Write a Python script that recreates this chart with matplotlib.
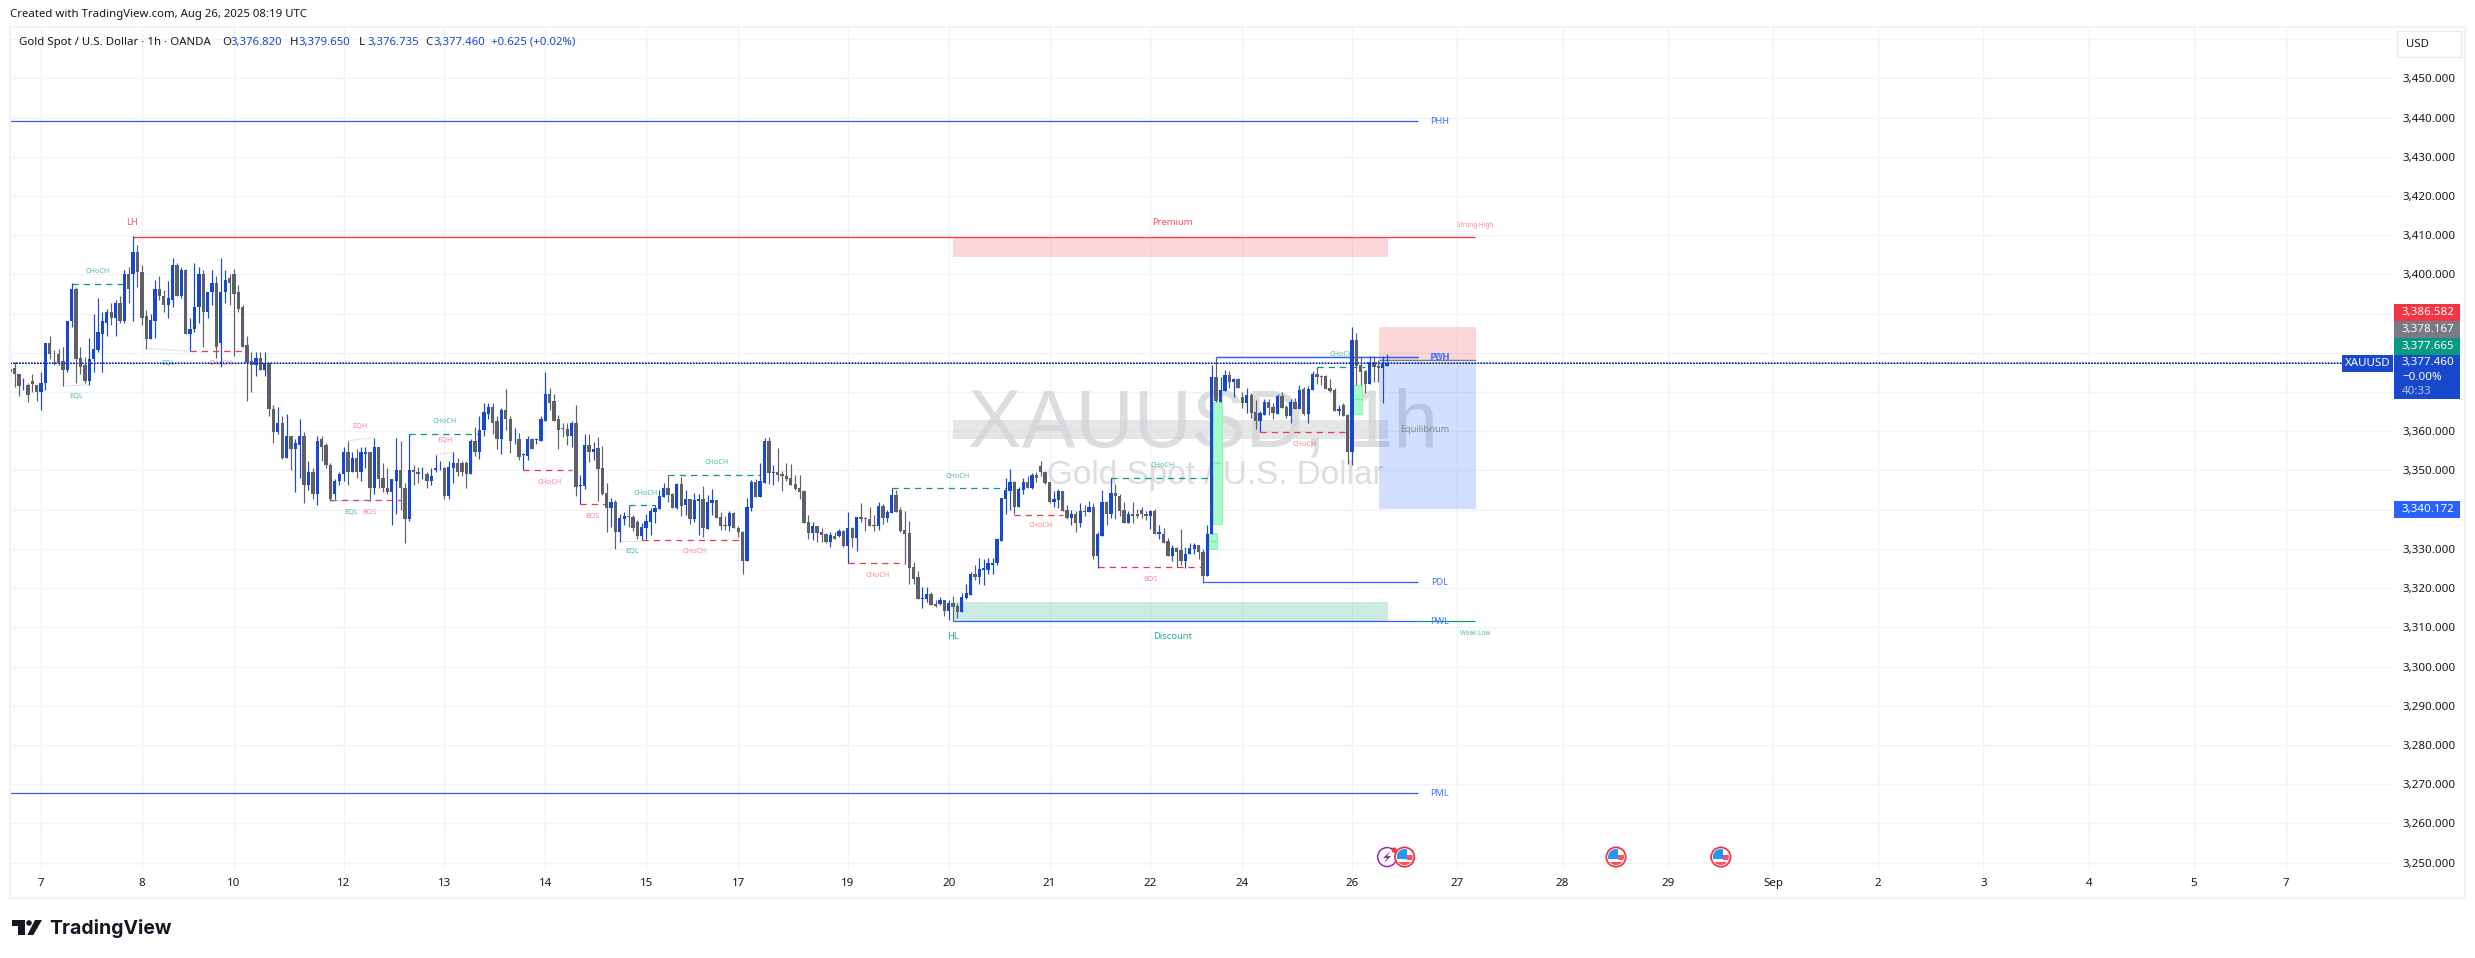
import numpy as np
import matplotlib
matplotlib.use("Agg")
import matplotlib.pyplot as plt
from matplotlib.patches import Rectangle, Circle, Polygon

plt.rcParams['font.family'] = ['Noto Sans', 'DejaVu Sans']

# Candles, one value per hourly bar
body_top = [
    3376,3376.2,3374.7,3371.9,3371.9,3372.7,3371.9,3372.4,3382.6,3382.6,
    3379.8,3379.8,3377.8,3388,3396.4,3396.4,3378.6,3376.8,3378.3,3380.9,
    3385.2,3388,3390.3,3390.3,3392.6,3392.6,3400,3400,3405.6,3405.6,
    3400.7,3389.5,3388.5,3396.2,3396.2,3394.6,3393.9,3402.5,3402.3,3401,
    3401,3386.2,3391.8,3400.2,3400.2,3395.6,3397.7,3397.7,3395.6,3398.7,
    3399,3400,3395.4,3391.6,3381.9,3377.8,3378.6,3378.8,3377.3,3377.3,
    3365.8,3362.2,3362.2,3358.7,3358.7,3357.1,3358.7,3358.7,3349.7,3349.7,
    3357.6,3357.9,3356.4,3351.5,3347.4,3349.2,3354.8,3354.8,3353.3,3353.3,
    3354.6,3354.6,3354.6,3355.9,3355.9,3348.2,3345.6,3347.7,3350,3350,
    3345.6,3350,3350,3349.7,3349.2,3349.2,3348.5,3350.7,3350.7,3350.7,
    3351,3352,3352,3352,3352,3357.4,3357.4,3360.4,3365,3366.3,3366.3,3362.5,
    3365.3,3365.3,3363.2,3358.1,3358.1,3354.3,3358.1,3357.9,3358.1,3363,
    3369.6,3369.6,3367.6,3363,3360.9,3360.7,3362.2,3362.2,3346.4,3356.6,
    3356.6,3355.6,3355.6,3350.7,3344.3,3342,3342,3337.9,3338.4,3338.4,
    3338.2,3336.9,3335.6,3337.2,3339.7,3340.5,3343.5,3345.6,3345.6,3344,
    3346.6,3346.6,3342.8,3342.8,3342.5,3342.8,3342.8,3342,3342.5,3342.5,
    3338.2,3336.1,3339.2,3339.2,3335.4,3334.3,3340.7,3347.1,3347.1,3347.4,
    3357.6,3357.6,3349.7,3349.7,3349.2,3348.7,3348.1,3346.6,3345.6,3344.8,
    3336.9,3335.9,3335.9,3334.3,3333.8,3333.6,3333.3,3334.6,3334.6,3335.4,
    3335.4,3338.2,3338.2,3337.9,3337.7,3336.1,3341,3341,3339.5,3343.8,
    3343.8,3340,3334.9,3334.1,3325.4,3322.8,3317.5,3318.5,3318.5,3315.9,
    3317,3317,3316.2,3316.2,3315.4,3317.7,3318.7,3323.6,3323.6,3324.9,
    3325,3326.3,3326.5,3332.4,3342.9,3344.9,3347,3347,3345.2,3347,
    3347,3348.8,3348.8,3351.1,3349.5,3347,3342.6,3344.7,3344.7,3339.8,
    3338.8,3338.8,3339.6,3339.6,3340.8,3340.8,3333.7,3341.9,3341.9,3344.2,
    3344.2,3343.6,3339.8,3339,3339,3338.8,3339.8,3339,3339.6,3339.6,
    3334.2,3333.9,3331.9,3330.1,3330.1,3329.6,3328.8,3330.1,3330.9,3330.9,
    3329.3,3333.9,
    3373.9,3373.9,3370.6,3374.4,3374.4,3373.4,3373.4,3368.8,3369.3,3369.3,
    3364.9,3364.7,3367.5,3367.5,3366.2,3369,3369,3366.2,3367.5,3367.5,
    3370.6,3370.8,3370.8,3374.7,3374.7,3374.1,3374.1,3371.1,3370.6,3365.7,
    3366.7,3364.2,3383.3,3383.3,3376.9,3375.4,3377.7,3377.7,3376.7,3377.2,
    3377.5]
body_bottom = [
    3375,3374.5,3371.5,3371.7,3369.2,3372,3370.1,3370.1,3372.2,3379.6,
    3379.6,3377.5,3375.5,3375.5,3388,3378.3,3376.5,3372.9,3372.9,3378.3,
    3380.6,3384.9,3387.7,3388.8,3388.8,3388.2,3388.2,3396.4,3400.2,3400.5,
    3388.8,3383.4,3383.4,3388.2,3394.4,3392.3,3392.3,3393.6,3394.4,3394.4,
    3384.9,3384.9,3386,3391.6,3390.5,3390.5,3395.4,3381.6,3382.6,3395.4,
    3397.7,3395.1,3391.3,3381.6,3377.5,3377,3377,3375.7,3375.7,3365.8,
    3359.9,3359.9,3353.3,3353.3,3355.4,3355.4,3356.6,3346.2,3346.4,3344.1,
    3344.1,3356.1,3351.5,3342.6,3343.9,3347.2,3349,3349.7,3349.7,3349.5,
    3349.5,3354.3,3345.4,3345.4,3347.9,3345.4,3344.6,3344.6,3347.4,3345.4,
    3337.5,3337.5,3349.5,3349,3349,3347.4,3347.4,3350,3350.5,3343.6,
    3343.6,3350.7,3349.5,3349.5,3349.2,3349.2,3354.6,3354.6,3360.2,3364.5,3362.2,3357.9,
    3357.9,3363,3357.6,3357.9,3353.5,3354,3353.8,3355.6,3357.7,3357.6,
    3362.7,3367.3,3362.7,3360.4,3360.7,3358.9,3358.9,3345.8,3346.1,3346.1,
    3354.8,3354.8,3350.4,3344,3340.5,3340.5,3334.3,3334.3,3337.7,3338.2,
    3335.4,3333.3,3333.3,3335.4,3336.9,3339.5,3340.2,3343.3,3343.8,3340.5,
    3340.5,3341,3341.2,3337.7,3337.7,3342.3,3335.4,3335.1,3341.8,3337.9,
    3335.9,3335.9,3335.9,3335.4,3334.3,3326.9,3326.9,3340.5,3343.3,3343.3,
    3346.9,3349.4,3349.4,3348.9,3348.7,3347.9,3346.4,3345.3,3344.6,3336.6,
    3334.1,3334.1,3334.1,3333.6,3331.8,3331.8,3332.6,3333.3,3330.8,3330.8,
    3332.8,3332.8,3337.7,3337.7,3335.9,3335.9,3335.9,3337.9,3337.9,3339.2,
    3339.5,3334.6,3333.8,3325.1,3322.3,3317.2,3317.2,3317.2,3315.7,3315.4,
    3315.9,3314.2,3314.2,3315.2,3313.9,3313.9,3317.5,3318.2,3322.8,3322.8,
    3324.5,3324.7,3326,3326.3,3332.1,3342.6,3344.7,3340.6,3340.6,3344.9,
    3345.4,3345.4,3348.2,3349.5,3346.7,3341.9,3341.9,3342.4,3339.6,3338,
    3338,3336.5,3336.5,3339.3,3339.3,3328.1,3328.1,3333.4,3339,3339,
    3343.4,3339.6,3336.7,3336.7,3338.5,3338.5,3338.8,3338.3,3338.3,3333.7,
    3333.9,3331.6,3328.1,3328.1,3329.3,3327,3327,3328.6,3329.9,3329.1,
    3323.2,3323.2,
    3333.8,3367.8,3367.5,3370.3,3372.6,3372.6,3371.1,3367.2,3367.2,3364.7,
    3362.6,3362.6,3364.2,3366,3364.7,3364.4,3366,3363.9,3363.9,3365.7,
    3365.7,3364.4,3364.4,3370.6,3373.9,3373.9,3370.8,3370.3,3365.2,3365.2,
    3363.9,3354.7,3354.7,3376.7,3375.2,3372.1,3372.1,3376.4,3376.2,3376.2,
    3376.7]
highs = [
    3379.5,3377.6,3374.7,3373.5,3372.3,3374.7,3371.9,3375,3382.6,3384.4,
    3380.6,3380.9,3381.4,3388.2,3397.7,3396.7,3381.4,3379,3383.7,3390,
    3394.1,3390.5,3391.3,3392.8,3393.4,3394.4,3401,3402,3409.7,3407.6,
    3402.5,3390.8,3390,3398.5,3399.7,3395.9,3398.2,3404.3,3402.8,3402,
    3401.3,3388.8,3402.8,3402,3401,3395.6,3401,3399.7,3404.1,3401,
    3400.2,3401.5,3397.2,3392.1,3384.2,3380.1,3380.3,3380.1,3380.3,3377.3,
    3366.8,3366.3,3364,3364.3,3358.9,3357.9,3363.2,3359.7,3352.5,3350.5,
    3358.9,3358.9,3357.1,3352,3347.7,3349.7,3355.9,3357.6,3354.6,3355.6,
    3355.9,3356.1,3354.6,3358.4,3356.1,3352,3350.7,3347.7,3358.4,3357.4,
    3346.9,3359.4,3351.5,3351,3351,3349.7,3350.5,3354,3352.3,3351,
    3352.3,3354.6,3353.3,3352.5,3352.3,3357.9,3361.2,3363.8,3367.1,3367.3,3367.3,3364,
    3366,3370.9,3364,3360.9,3359.6,3354.5,3358.9,3358.4,3358.4,3363.8,
    3375,3371.1,3369.4,3364.2,3362.2,3362.2,3362.5,3366.8,3348.9,3359.4,
    3359.4,3357.3,3358.6,3356.3,3346.9,3343,3342.5,3339,3339.5,3341.2,
    3338.7,3337.4,3336.6,3339,3340.5,3341.2,3345.1,3346.9,3348.9,3344.3,
    3346.9,3348.4,3345.1,3342.8,3344.3,3344,3346.1,3343.8,3345.3,3342.5,
    3339.5,3338.4,3339.7,3339.5,3335.9,3334.6,3343,3347.6,3347.9,3352,
    3358.4,3358.6,3351.5,3355.8,3349.9,3352,3351.7,3348.9,3348.9,3345.1,
    3338.7,3336.9,3335.9,3335.4,3334.1,3334.3,3334.3,3335.1,3334.9,3339.5,
    3335.6,3338.2,3341.8,3338.2,3340.7,3338.7,3342,3341.5,3340,3345.6,
    3345.1,3340.7,3339.7,3337.2,3326.7,3324.4,3320.3,3320.3,3319,3317,
    3317.7,3317,3317,3318,3316.2,3318.7,3321,3324.1,3325.9,3327.7,
    3327.5,3327.8,3327.8,3332.9,3342.9,3348.2,3350.3,3347.2,3345.9,3348.2,
    3348.5,3349.3,3349.5,3352.3,3349.8,3347,3344.7,3345.2,3344.7,3341.1,
    3339.8,3339.6,3341.6,3341.3,3342.1,3341.6,3334.4,3344.9,3342.1,3348.2,
    3346.5,3343.9,3341.9,3339.6,3341.9,3340.1,3340.6,3339.6,3339.8,3340.1,
    3336.2,3335.2,3332.7,3330.9,3330.6,3335,3330.6,3331.6,3331.6,3330.9,
    3329.9,3336.2,
    3377,3378.9,3373.9,3375.7,3375.4,3373.6,3373.6,3370,3371.1,3369.8,
    3368,3365.2,3368.3,3368.3,3367.2,3369.5,3370,3366.7,3368.3,3368.5,
    3371.8,3371.3,3371.6,3375.4,3376.4,3374.4,3374.4,3373.4,3371.1,3366.7,
    3367.2,3364.4,3386.7,3385.1,3379,3375.7,3379.3,3379.3,3378.2,3379.3,
    3379.8]
lows = [
    3373,3371.2,3369.1,3370.5,3367.4,3370.1,3367.8,3365.5,3370.4,3378.3,
    3376.8,3377,3371.5,3375.2,3386.5,3372.4,3374.5,3372.2,3371.9,3375.2,
    3380.1,3375,3384.4,3387.2,3384.4,3387.7,3387.5,3392.8,3388,3396.7,
    3387.2,3381.1,3383.4,3383.7,3393.6,3390.3,3389,3391.8,3394.4,3394.1,
    3384.7,3380.4,3385.2,3387.7,3381.4,3389,3392.1,3378.6,3376.3,3392.6,
    3392.1,3379.1,3390.3,3381.6,3367.6,3370.1,3374.2,3375.7,3374,3364,
    3357.1,3359.2,3353,3353.3,3350,3344.6,3348.2,3341.6,3344.9,3342.8,
    3341.3,3352.5,3350.5,3342.3,3342.6,3346.2,3347.4,3346.4,3349.7,3348.2,
    3347.2,3350.5,3342.3,3343.9,3345.6,3344.6,3344.1,3336.2,3338.8,3340,
    3331.4,3337.2,3346.2,3346.7,3347.7,3345.6,3346.2,3349.5,3350,3342.8,
    3342.8,3346.9,3348.7,3348.7,3345.6,3349,3353.8,3353,3358.9,3363.2,3359.2,3355.6,
    3354.3,3360.4,3354.5,3356.8,3352.7,3350.2,3352.7,3355.6,3356.8,3357.6,
    3362.7,3365.3,3362.7,3355.6,3358.6,3356.5,3356.1,3343.5,3341.4,3345.3,
    3352.2,3352.7,3342.3,3343.8,3334.3,3335.6,3330,3331.8,3336.1,3335.6,
    3334.6,3332.6,3332.3,3332.6,3333.6,3336.6,3340.2,3343.3,3342,3340.5,
    3340.2,3338.4,3338.7,3336.4,3336.9,3333.6,3333.1,3335.1,3338.7,3337.9,
    3334.9,3334.9,3334.6,3335.4,3333.1,3323.6,3326.9,3339.7,3343.3,3343.3,
    3346.9,3346.6,3346.4,3347.4,3344.8,3347.4,3346.4,3345.1,3342.8,3336.6,
    3332.6,3332.3,3331.8,3331.8,3331.5,3330.5,3332.6,3333.1,3330.5,3326.3,
    3330.5,3329.5,3336.9,3334.6,3335.9,3334.6,3334.9,3336.4,3336.9,3339.2,
    3339.5,3334.3,3326.2,3321.1,3321.1,3317.2,3314.9,3316.5,3315.7,3315.2,
    3315.7,3312.9,3311.9,3311.6,3312.4,3313.9,3317.2,3318.2,3322,3321,
    3320.9,3323.7,3323.7,3325.8,3332.1,3338.8,3340,3338.8,3340.6,3343.9,
    3345.4,3345.2,3347,3348.5,3346.5,3341.6,3340.6,3340.3,3339.6,3337.5,
    3336.2,3334.2,3335.5,3338.3,3339.3,3327.5,3325.2,3333.4,3336,3338,
    3337.5,3338.3,3336.7,3336.5,3336.7,3337.8,3337.8,3337.3,3335,3333.7,
    3332.4,3331.6,3328.1,3327,3325.5,3325.8,3325.2,3328.6,3328.8,3327.5,
    3321.4,3323.2,
    3333.8,3367.5,3367.5,3370.3,3371.1,3368.8,3371.1,3366,3364.7,3363.4,
    3360.6,3359.7,3364.2,3364.2,3363.2,3364.4,3366,3363.4,3362.1,3365.7,
    3365.7,3364.2,3362.1,3370.6,3372.1,3371.8,3370.8,3370.1,3365.2,3364.2,
    3363.9,3351.7,3351.4,3371.8,3371.8,3369.8,3372.1,3372.6,3372.6,3367.2,
    3376.7]
# b = close above open, g = close below open
directions = (
    "gggbgggbbg" "gggbbgggbb" "bbbgbgbgbg" "ggbbggbbgb" "gbbbgbbgbb" "ggggggbgbg"
    "gbgbgbbgbg" "bgggbbbgbg" "bbgbgggbbg" "gbggbgbbbg" "bbgggbgbbb" "gg"
    "bggbgbbgbb" "bgggggbgbb" "gbgggbgbbg" "ggbbbbbbgg" "bgbgbbgbbg" "ggbgggbbgb"
    "bgbggggggg" "gbgggbgbgb" "gbggggbgbb" "ggggggbbgg" "bgbggbbbgb"
    "bbbbbbbgbb" "gbggggbbgg" "bgbgbgbbgb" "gggbggggbg" "bggbggbbbg" "gb"
    "bgbbgbggbg" "gbbggbggbg" "bgbbgggggb" "ggbgggbggb" "b")

# Time axis: bar number of each labelled day
day_bars = [7, 30, 51, 76, 99, 122, 145, 166, 191, 214, 237, 260, 281, 306,
            330, 354, 378, 402, 426, 450, 474, 498, 519]
day_labels = ['7', '8', '10', '12', '13', '14', '15', '17', '19', '20', '21', '22', '24', '26',
              '27', '28', '29', 'Sep', '2', '3', '4', '5', '7']
price_ticks = list(range(3250, 3470, 10))

last_close = 3377.46

# Levels: start bar, end bar, price
level_names = ['PHH', 'PML', 'PDL', 'PDH', 'PWL', 'PWH']
level_start = [0, 0, 272, 275, 215, 275]
level_end = [321, 321, 321, 321, 321, 321]
level_price = [3439, 3267.7, 3321.5, 3378.9, 3311.5, 3378.9]

# Dashed structure breaks
teal_start = [14, 91, 141, 150, 201, 251, 298]
teal_end = [26, 107, 147, 171, 227, 274, 309]
teal_price = [3397.5, 3359.4, 3341.2, 3348.8, 3345.6, 3348.2, 3376.3]
red_start = [41, 73, 117, 130, 144, 191, 229, 248, 285]
red_end = [54, 89, 128, 136, 167, 204, 240, 272, 305]
red_price = [3380.4, 3342.4, 3350.1, 3341.4, 3332.2, 3326.3, 3338.7, 3325.3, 3359.7]

# Faint equal highs and lows: start bar, end bar, two prices
eql_start = [12, 31, 73, 139]
eql_end = [18, 41, 82, 144]
eql_from = [3371.5, 3381.1, 3342.4, 3332]
eql_to = [3371.9, 3380.4, 3342.4, 3332]
eqh_start = [77, 97]
eqh_end = [83, 101]
eqh_from = [3357.6, 3354]
eqh_to = [3358.4, 3354.6]

# Small labels
teal_labels = ['CHoCH', 'EQL', 'EQL', 'EQL', 'CHoCH', 'CHoCH', 'EQL', 'CHoCH', 'CHoCH', 'CHoCH', 'CHoCH']
teal_label_bar = [19.8, 14.9, 35.9, 77.8, 99, 144.8, 141.9, 161, 216, 262.9, 303.6]
teal_label_price = [3400.7, 3368.8, 3377.3, 3339.3, 3362.4, 3344.2, 3329.4, 3352.1, 3348.5, 3351.3, 3379.6]
red_labels = ['CHoCH', 'EQH', 'BOS', 'EQH', 'CHoCH', 'BOS', 'CHoCH', 'CHoCH', 'CHoCH', 'BOS', 'CHoCH']
red_label_bar = [48, 79.8, 81.9, 99, 122.9, 132.8, 156, 197.9, 234.9, 260, 295.1]
red_label_price = [3377.3, 3361.3, 3339.3, 3357.6, 3347, 3338.3, 3329.4, 3323.3, 3336, 3322.2, 3356.7]

BLUE = '#1848cc'
GREY = '#5d606b'
LEVEL = '#2962ff'
RED = '#f23645'
TEAL = '#089981'
GRID = '#f0f2f6'
TEXT = '#131722'
TEAL_TXT = '#4fb8a2'
RED_TXT = '#fa8592'

W, H = 2475, 958
fig = plt.figure(figsize=(W / 100, H / 100), dpi=100, facecolor='white')

# Plot area is x 10-2393, y 27-870 in image pixels
ax = fig.add_axes([10 / W, (H - 870) / H, 2383 / W, 843 / H])
ax.set_xlim(-0.075, 543.4)
ax.set_ylim(3248.1, 3463.1)
for s in ax.spines.values():
    s.set_visible(False)
ax.set_axisbelow(True)
ax.grid(True, color=GRID, lw=1.0)
ax.set_xticks(day_bars)
ax.set_xticklabels(day_labels)
ax.yaxis.tick_right()
ax.set_yticks(price_ticks)
ax.set_yticklabels([f'{p:,.3f}' for p in price_ticks])
ax.tick_params(axis='x', length=0, pad=5.5, labelsize=8.3, labelcolor=TEXT)
ax.tick_params(axis='y', length=0, pad=6.7, labelsize=8.3, labelcolor=TEXT)

# Watermark
ax.text(218.3, 3361.5, 'XAUUSD, 1h', fontsize=58, color='#dcddde', ha='left', va='center',
        family='Liberation Sans', zorder=1)
ax.text(313.3, 3348.6, 'Gold Spot / U.S. Dollar', fontsize=24, color='#dcddde', ha='right', va='center',
        family='Liberation Sans', zorder=1)

# Zones
ax.add_patch(Rectangle((214.9, 3358.1), 99.3, 4.8, fc='#d5d6d9', alpha=0.6, lw=0, zorder=1.5))
ax.add_patch(Rectangle((214.9, 3404.4), 99.3, 4.9, fc=RED, alpha=0.2, lw=0, zorder=2))
ax.add_patch(Rectangle((214.9, 3311.6), 99.3, 4.9, fc=TEAL, alpha=0.2, lw=0, zorder=2))
ax.add_patch(Rectangle((312.1, 3378.167), 22.1, 8.415, fc=RED, alpha=0.2, lw=0, zorder=2))
ax.add_patch(Rectangle((312.1, 3340.172), 22.1, 37.5, fc=LEVEL, alpha=0.2, lw=0, zorder=2))
ax.hlines(3378.167, 312.1, 334.2, color='#787b86', lw=1.0, zorder=3)

# Imbalance boxes with their midlines
for left, right, low, high, mid in [(274.3, 276.3, 3336.4, 3367.5, 3352), (273.4, 275.2, 3330, 3334, 3332),
                                    (306.3, 308.2, 3364.5, 3371.8, 3368.1)]:
    ax.add_patch(Rectangle((left, low), right - left, high - low, fc='#a8fcc6', ec='#8df5b0', lw=0.7, zorder=2.5))
    ax.hlines(mid, left, right, color='#7ff0a5', lw=1.0, zorder=2.6)

# Key lines
ax.hlines(3409.5, 28, 334, color=RED, lw=0.9, zorder=3)
ax.hlines(level_price, level_start, level_end, color=LEVEL, lw=0.9, zorder=3)
ax.hlines(3311.5, 321, 334, color=TEAL, lw=0.9, zorder=3)

# Structure breaks
ax.hlines(teal_price, teal_start, teal_end, color=TEAL, lw=0.9, linestyle=(0, (5, 4)), zorder=3)
ax.hlines(red_price, red_start, red_end, color=RED, lw=0.9, linestyle=(0, (5, 4)), zorder=3)
for a, b, p, q in zip(eql_start, eql_end, eql_from, eql_to):
    ax.plot([a, b], [p, q], color=TEAL, alpha=0.4, lw=0.8, linestyle=(0, (1, 1)), zorder=3)
for a, b, p, q in zip(eqh_start, eqh_end, eqh_from, eqh_to):
    ax.plot([a, b], [p, q], color=RED, alpha=0.35, lw=0.8, linestyle=(0, (1, 1)), zorder=3)

for t, x, y in zip(teal_labels, teal_label_bar, teal_label_price):
    ax.text(x, y, t, color=TEAL_TXT, fontsize=5.2, ha='center', va='center', zorder=3.5)
for t, x, y in zip(red_labels, red_label_bar, red_label_price):
    ax.text(x, y, t, color=RED_TXT, fontsize=5.2, ha='center', va='center', zorder=3.5)

# Candles
bars = np.arange(len(body_top))
is_up = np.array(list(directions)) == 'b'
top = np.array(body_top)
bottom = np.array(body_bottom)
hi = np.array(highs)
lo = np.array(lows)
for mask, colour in [(is_up, BLUE), (~is_up, GREY)]:
    ax.vlines(bars[mask], lo[mask], hi[mask], color=colour, lw=0.85, zorder=4)
    ax.bar(bars[mask], top[mask] - bottom[mask], bottom=bottom[mask], width=0.76, color=colour, lw=0, zorder=4)

# Last price line, blue dots with dark centres at the same spacing
ax.axhline(last_close, color=LEVEL, lw=1.4, linestyle=(0, (0.77, 0.77)), dash_capstyle='butt', zorder=6)
ax.axhline(last_close, color='#0c1a4a', lw=0.7, linestyle=(0, (1.54, 1.54)), dash_capstyle='butt', zorder=6)

# Large labels
ax.text(27.8, 3413.2, 'LH', color='#f7525f', fontsize=6.8, ha='center', va='center', zorder=5)
ax.text(265, 3413.3, 'Premium', color='#f7525f', fontsize=6.8, ha='center', va='center', zorder=5)
ax.text(215, 3307.6, 'HL', color='#22ab94', fontsize=6.8, ha='center', va='center', zorder=5)
ax.text(265, 3307.6, 'Discount', color='#22ab94', fontsize=6.8, ha='center', va='center', zorder=5)
ax.text(322.5, 3360.4, 'Equilibrium', color='#85868c', fontsize=6.5, ha='center', va='center', zorder=5)
ax.text(334, 3412.4, 'Strong High', color=RED_TXT, fontsize=4.6, ha='center', va='center', zorder=5)
ax.text(334, 3308.5, 'Weak Low', color=TEAL_TXT, fontsize=4.6, ha='center', va='center', zorder=5)
for n, p in zip(level_names, level_price):
    ax.text(326, p, n, color='#3f73ff', fontsize=6.6, ha='center', va='center', zorder=5)

# Everything around the plot, in image pixels
ov = fig.add_axes([0, 0, 1, 1], zorder=10)
ov.set_xlim(0, W)
ov.set_ylim(H, 0)
ov.axis('off')
ov.patch.set_alpha(0)

ov.add_patch(Rectangle((9.5, 27), 2455.5, 871, fc='none', ec=GRID, lw=1.5))
ov.text(9.5, 14.5, 'Created with TradingView.com, Aug 26, 2025 08:19 UTC', fontsize=8.2, color=TEXT, va='center')
ov.text(19, 42, 'Gold Spot / U.S. Dollar · 1h · OANDA', fontsize=8.2, color=TEXT, va='center')
for x, head, val in [(222, 'O', '3,376.820'), (290, 'H', '3,379.650'), (359, 'L', '3,376.735'), (425, 'C', '3,377.460')]:
    ov.text(x, 42, head, fontsize=8.2, color=TEXT, va='center')
    ov.text(x + 8.5, 42, val, fontsize=8.2, color=BLUE, va='center')
ov.text(491, 42, '+0.625 (+0.02%)', fontsize=8.2, color=BLUE, va='center')

# USD box
ov.add_patch(Rectangle((2397, 31), 64, 26, fc='white', ec='#e6e8ee', lw=0.8))
ov.text(2406, 44, 'USD', fontsize=8.2, color=TEXT, va='center')

# Price tags
tag_text = ['3,386.582', '3,378.167', '3,377.665', '3,340.172']
tag_top = [304, 320.7, 337.7, 501]
tag_height = [16.7, 17, 17.3, 16.7]
tag_colour = [RED, '#787b86', TEAL, LEVEL]
for t, y, h, c in zip(tag_text, tag_top, tag_height, tag_colour):
    ov.add_patch(Rectangle((2394, y), 65.7, h, fc=c, lw=0))
    ov.text(2402, y + h / 2, t, fontsize=8.3, color='white', va='center')
ov.add_patch(Rectangle((2394, 355), 65.7, 44.3, fc=BLUE, lw=0))
ov.text(2402, 363, '3,377.460', fontsize=8.3, color='white', va='center')
ov.text(2402, 377, '−0.00%', fontsize=8.3, color='white', va='center')
ov.text(2402, 391, '40:33', fontsize=8.3, color='#b3c3ee', va='center')
ov.add_patch(Rectangle((2342, 355), 50.7, 16.7, fc=BLUE, lw=0))
ov.text(2367.3, 363.3, 'XAUUSD', fontsize=8.3, color='white', va='center', ha='center')

# TradingView logo
ov.add_patch(Rectangle((12, 920), 13, 6, fc=TEXT, lw=0))
ov.add_patch(Rectangle((18, 920), 7, 15, fc=TEXT, lw=0))
ov.add_patch(Circle((29, 923), 2.8, fc=TEXT, lw=0))
ov.add_patch(Polygon([(35, 920), (42, 920), (33.3, 935), (27.3, 935)], fc=TEXT, lw=0))
ov.text(49, 928, 'TradingView', fontsize=14, color=TEXT, fontweight='bold', family='Inter', va='center')


def to_image(bar, price):
    px, py = ax.transData.transform((bar, price))
    return px, H - py


# Event markers on the time axis
event_price = 3251.4
ex, ey = to_image(314, event_price)
ov.add_patch(Circle((ex, ey), 9.5, fc='white', ec='#9c27b0', lw=1.1))
ov.add_patch(Polygon([(ex + 3, ey - 6), (ex - 4, ey + 1), (ex, ey + 1), (ex - 3, ey + 6), (ex + 4, ey - 1), (ex, ey - 1)],
                     fc='#9c27b0', lw=0))
for b in [318, 366.2, 390.1]:
    ex, ey = to_image(b, event_price)
    ov.add_patch(Circle((ex, ey), 9.7, fc='white', ec=RED, lw=1.3))
    clip = Circle((ex, ey), 8, transform=ov.transData)
    for y0, h, x0, w, c in [(-8, 10, -8, 10, '#2196f3'), (-2, 4.5, 2, 7, '#f7525f'), (5, 3, -8, 16, '#f7525f')]:
        r = Rectangle((ex + x0, ey + y0), w, h, fc=c, lw=0)
        ov.add_patch(r)
        r.set_clip_path(clip)
ex, ey = to_image(314, event_price)
ov.add_patch(Circle((ex + 7, ey - 7), 2.6, fc=RED, lw=0))

fig.savefig('out.png', dpi=100)
